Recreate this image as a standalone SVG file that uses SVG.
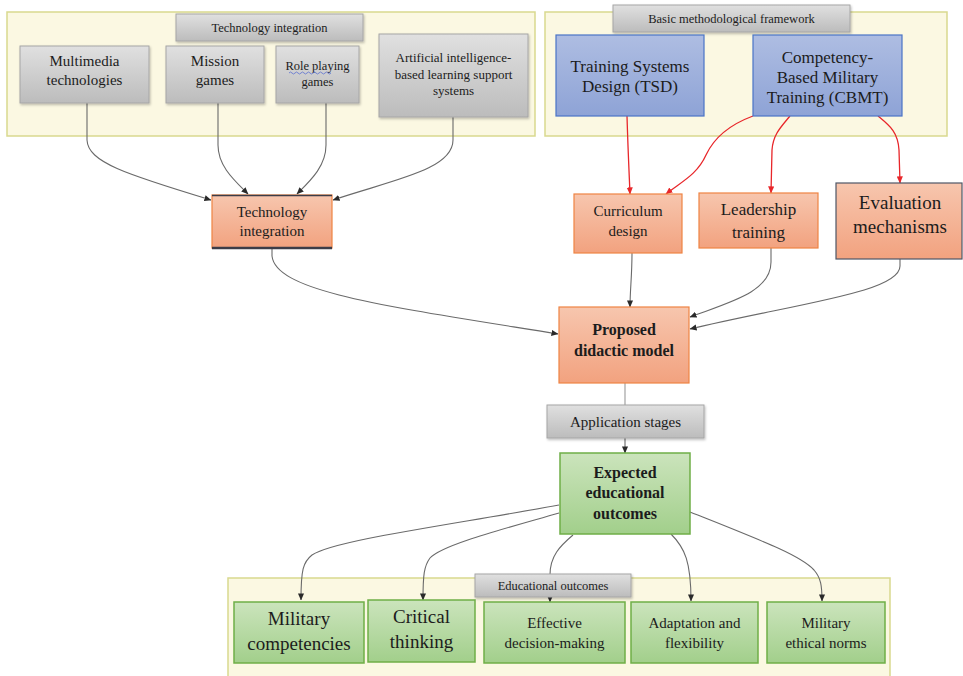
<svg xmlns="http://www.w3.org/2000/svg" width="963" height="676" viewBox="0 0 963 676">
<defs>
<linearGradient id="gGray" x1="0" y1="0" x2="0" y2="1"><stop offset="0" stop-color="#e0e0e0"/><stop offset="1" stop-color="#bcbcbc"/></linearGradient>
<linearGradient id="gBlue" x1="0" y1="0" x2="0" y2="1"><stop offset="0" stop-color="#aebde2"/><stop offset="1" stop-color="#8ea3d6"/></linearGradient>
<linearGradient id="gOrange" x1="0" y1="0" x2="0" y2="1"><stop offset="0" stop-color="#f7c6ae"/><stop offset="1" stop-color="#f2a27f"/></linearGradient>
<linearGradient id="gGreen" x1="0" y1="0" x2="0" y2="1"><stop offset="0" stop-color="#cbe4bc"/><stop offset="1" stop-color="#a2cf8b"/></linearGradient>
<filter id="sh" x="-10%" y="-10%" width="120%" height="130%"><feDropShadow dx="1" dy="1.5" stdDeviation="1" flood-color="#000" flood-opacity="0.25"/></filter>
<marker id="ah" viewBox="0 0 8 8" refX="7.5" refY="4" markerWidth="7" markerHeight="7" markerUnits="userSpaceOnUse" orient="auto"><path d="M0,0.5 L8,4 L0,7.5 z" fill="#2a2a2a"/></marker>
<marker id="ahr" viewBox="0 0 8 8" refX="7.5" refY="4" markerWidth="7" markerHeight="7" markerUnits="userSpaceOnUse" orient="auto"><path d="M0,0.5 L8,4 L0,7.5 z" fill="#e8262a"/></marker>
</defs>
<style>
.t{fill:#1c1c1c;text-anchor:middle}
.panel{fill:#fbf8e2;stroke:#d9d98e;stroke-width:1.5}
.gray{fill:url(#gGray);stroke:#a6a6a6;stroke-width:1;filter:url(#sh)}
.blue{fill:url(#gBlue);stroke:#4a74c6;stroke-width:1.2}
.orange{fill:url(#gOrange);stroke:#ef8443;stroke-width:1.2}
.green{fill:url(#gGreen);stroke:#6fae47;stroke-width:1.5}
.c{fill:none;stroke:#6a6a6a;stroke-width:1.1;marker-end:url(#ah)}
.r{fill:none;stroke:#e8262a;stroke-width:1.3;marker-end:url(#ahr)}
.b{font-weight:bold}
</style>
<rect width="963" height="676" fill="#ffffff"/>

<g id="panels">
<rect class="panel" x="7" y="12" width="528" height="124"/>
<rect class="panel" x="545" y="12" width="402" height="124"/>
<rect class="panel" x="228" y="578" width="662" height="100"/>
</g>

<g id="connectors">
<path class="c" d="M87,103 V140 C88,162 125,174 211,200"/>
<path class="c" d="M218,103 V145 C218,166 234,180 248,194"/>
<path class="c" d="M326,103 V145 C326,166 311,180 297,194"/>
<path class="c" d="M453,117 V140 C453,170 392,180 333,200"/>
<path class="c" d="M272,248 V256 C276,292 385,306 558,334"/>
<path class="c" d="M632,253 C632,276 630,290 630,307"/>
<path class="c" d="M771,248 V262 C771,292 730,302 690,317"/>
<path class="c" d="M900,259 V266 C900,292 800,303 690,329"/>
<path class="r" d="M627,116 C628,150 629,170 630,194"/>
<path class="r" d="M753,116 C726,126 713,140 706,155 C697,175 681,182 666,194"/>
<path class="r" d="M790,116 C780,128 773,135 772,150 L771,193"/>
<path class="r" d="M878,116 C890,126 898,132 899,150 L900,183"/>
<path d="M625,383 V405" fill="none" stroke="#9a9a9a" stroke-width="1.1"/>
<path class="c" d="M625,438 V453"/>
<path class="c" d="M559,505 C450,525 335,540 312,555 C303,562 301,570 301,600"/>
<path class="c" d="M559,513 C500,530 442,545 430,558 C424,566 423,575 423,600"/>
<path class="c" d="M573,535 C560,546 550,556 550,575 L550,602"/>
<path class="c" d="M671,534 C685,548 691,562 691,601"/>
<path class="c" d="M690,512 C760,540 800,555 814,570 C821,578 822,586 822,601"/>
</g>

<g id="lbl-tech-integration">
<rect class="gray" x="176" y="14" width="187" height="27"/>
<text class="t" font-family="Liberation Serif" x="269.5" y="32" font-size="12.5">Technology integration</text>
</g>
<g id="multimedia">
<rect class="gray" x="20" y="46" width="129" height="57"/>
<text class="t" font-family="Liberation Serif" x="84.5" y="66" font-size="15">Multimedia</text>
<text class="t" font-family="Liberation Serif" x="84.5" y="85" font-size="15">technologies</text>
</g>
<g id="mission-games">
<rect class="gray" x="166" y="46" width="98" height="57"/>
<text class="t" font-family="Liberation Serif" x="215" y="66" font-size="15">Mission</text>
<text class="t" font-family="Liberation Serif" x="215" y="85" font-size="15">games</text>
</g>
<g id="role-playing">
<rect class="gray" x="276" y="46" width="83" height="57"/>
<text class="t" font-family="Liberation Serif" x="317.5" y="70" font-size="12.5">Role playing</text>
<path d="M289,73 q1.5,-2 3,0 t3,0 t3,0 t3,0 t3,0 t3,0 t3,0 t3,0 t3,0 t3,0 t3,0 t3,0 t3,0 t3,0" fill="none" stroke="#5a6fd0" stroke-width="0.8"/>
<text class="t" font-family="Liberation Serif" x="317.5" y="86" font-size="12.5">games</text>
</g>
<g id="ai-systems">
<rect class="gray" x="379" y="34" width="149" height="83"/>
<text class="t" font-family="Liberation Serif" x="453.5" y="62" font-size="13">Artificial intelligence-</text>
<text class="t" font-family="Liberation Serif" x="453.5" y="79" font-size="13">based learning support</text>
<text class="t" font-family="Liberation Serif" x="453.5" y="95" font-size="13">systems</text>
</g>

<g id="lbl-basic-framework">
<rect class="gray" x="613" y="5" width="237" height="27"/>
<text class="t" font-family="Liberation Serif" x="731.5" y="23" font-size="12.5">Basic methodological framework</text>
</g>
<g id="tsd">
<rect class="blue" x="556" y="35" width="148" height="81"/>
<text class="t" font-family="Liberation Serif" x="630" y="72" font-size="17">Training Systems</text>
<text class="t" font-family="Liberation Serif" x="630" y="92" font-size="17">Design (TSD)</text>
</g>
<g id="cbmt">
<rect class="blue" x="753" y="35" width="149" height="81"/>
<text class="t" font-family="Liberation Serif" x="827.5" y="63" font-size="17">Competency-</text>
<text class="t" font-family="Liberation Serif" x="827.5" y="83" font-size="17">Based Military</text>
<text class="t" font-family="Liberation Serif" x="827.5" y="103" font-size="17">Training (CBMT)</text>
</g>

<g id="technology-integration">
<rect class="orange" x="212" y="195" width="120" height="53"/>
<line x1="212" y1="195.5" x2="332" y2="195.5" stroke="#3c3c48" stroke-width="1.5"/>
<line x1="212" y1="248" x2="332" y2="248" stroke="#3c3c48" stroke-width="2.5"/>
<text class="t" font-family="Liberation Serif" x="272" y="217" font-size="15">Technology</text>
<text class="t" font-family="Liberation Serif" x="272" y="236" font-size="15">integration</text>
</g>
<g id="curriculum-design">
<rect class="orange" x="574" y="194" width="108" height="59"/>
<text class="t" font-family="Liberation Serif" x="628" y="216" font-size="15">Curriculum</text>
<text class="t" font-family="Liberation Serif" x="628" y="236" font-size="15">design</text>
</g>
<g id="leadership-training">
<rect class="orange" x="699" y="193" width="119" height="55"/>
<text class="t" font-family="Liberation Serif" x="758.5" y="215" font-size="17">Leadership</text>
<text class="t" font-family="Liberation Serif" x="758.5" y="238" font-size="17">training</text>
</g>
<g id="evaluation-mechanisms">
<rect class="orange" x="836" y="183" width="126" height="76" style="stroke:#4e5666"/>
<text class="t" font-family="Liberation Serif" x="900" y="209" font-size="19">Evaluation</text>
<text class="t" font-family="Liberation Serif" x="900" y="233" font-size="19">mechanisms</text>
</g>

<g id="proposed-model">
<rect class="orange" x="559" y="307" width="130" height="76"/>
<text class="t b" font-family="Liberation Serif" x="624" y="335" font-size="16">Proposed</text>
<text class="t b" font-family="Liberation Serif" x="624" y="356" font-size="16">didactic model</text>
</g>
<g id="application-stages">
<rect class="gray" x="547" y="405" width="157" height="33"/>
<text class="t" font-family="Liberation Serif" x="625.5" y="427" font-size="15">Application stages</text>
</g>
<g id="expected-outcomes">
<rect class="green" x="560" y="453" width="130" height="81"/>
<text class="t b" font-family="Liberation Serif" x="625" y="478" font-size="16">Expected</text>
<text class="t b" font-family="Liberation Serif" x="625" y="498" font-size="16">educational</text>
<text class="t b" font-family="Liberation Serif" x="625" y="519" font-size="16">outcomes</text>
</g>

<g id="military-competencies">
<rect class="green" x="234" y="602" width="130" height="61"/>
<text class="t" font-family="Liberation Serif" x="299" y="625" font-size="19">Military</text>
<text class="t" font-family="Liberation Serif" x="299" y="650" font-size="19">competencies</text>
</g>
<g id="critical-thinking">
<rect class="green" x="368" y="600" width="107" height="62"/>
<text class="t" font-family="Liberation Serif" x="421.5" y="623" font-size="19">Critical</text>
<text class="t" font-family="Liberation Serif" x="421.5" y="648" font-size="19">thinking</text>
</g>
<g id="effective-decision">
<rect class="green" x="484" y="602" width="141" height="61"/>
<text class="t" font-family="Liberation Serif" x="554.5" y="628" font-size="15">Effective</text>
<text class="t" font-family="Liberation Serif" x="554.5" y="648" font-size="15">decision-making</text>
</g>
<g id="adaptation">
<rect class="green" x="631" y="602" width="127" height="61"/>
<text class="t" font-family="Liberation Serif" x="694.5" y="628" font-size="15">Adaptation and</text>
<text class="t" font-family="Liberation Serif" x="694.5" y="648" font-size="15">flexibility</text>
</g>
<g id="ethical-norms">
<rect class="green" x="767" y="602" width="118" height="61"/>
<text class="t" font-family="Liberation Serif" x="826" y="628" font-size="15">Military</text>
<text class="t" font-family="Liberation Serif" x="826" y="648" font-size="15">ethical norms</text>
</g>
<g id="lbl-educational-outcomes">
<rect class="gray" x="475" y="574" width="156" height="23"/>
<text class="t" font-family="Liberation Serif" x="553" y="590" font-size="12.5">Educational outcomes</text>
</g>
</svg>
